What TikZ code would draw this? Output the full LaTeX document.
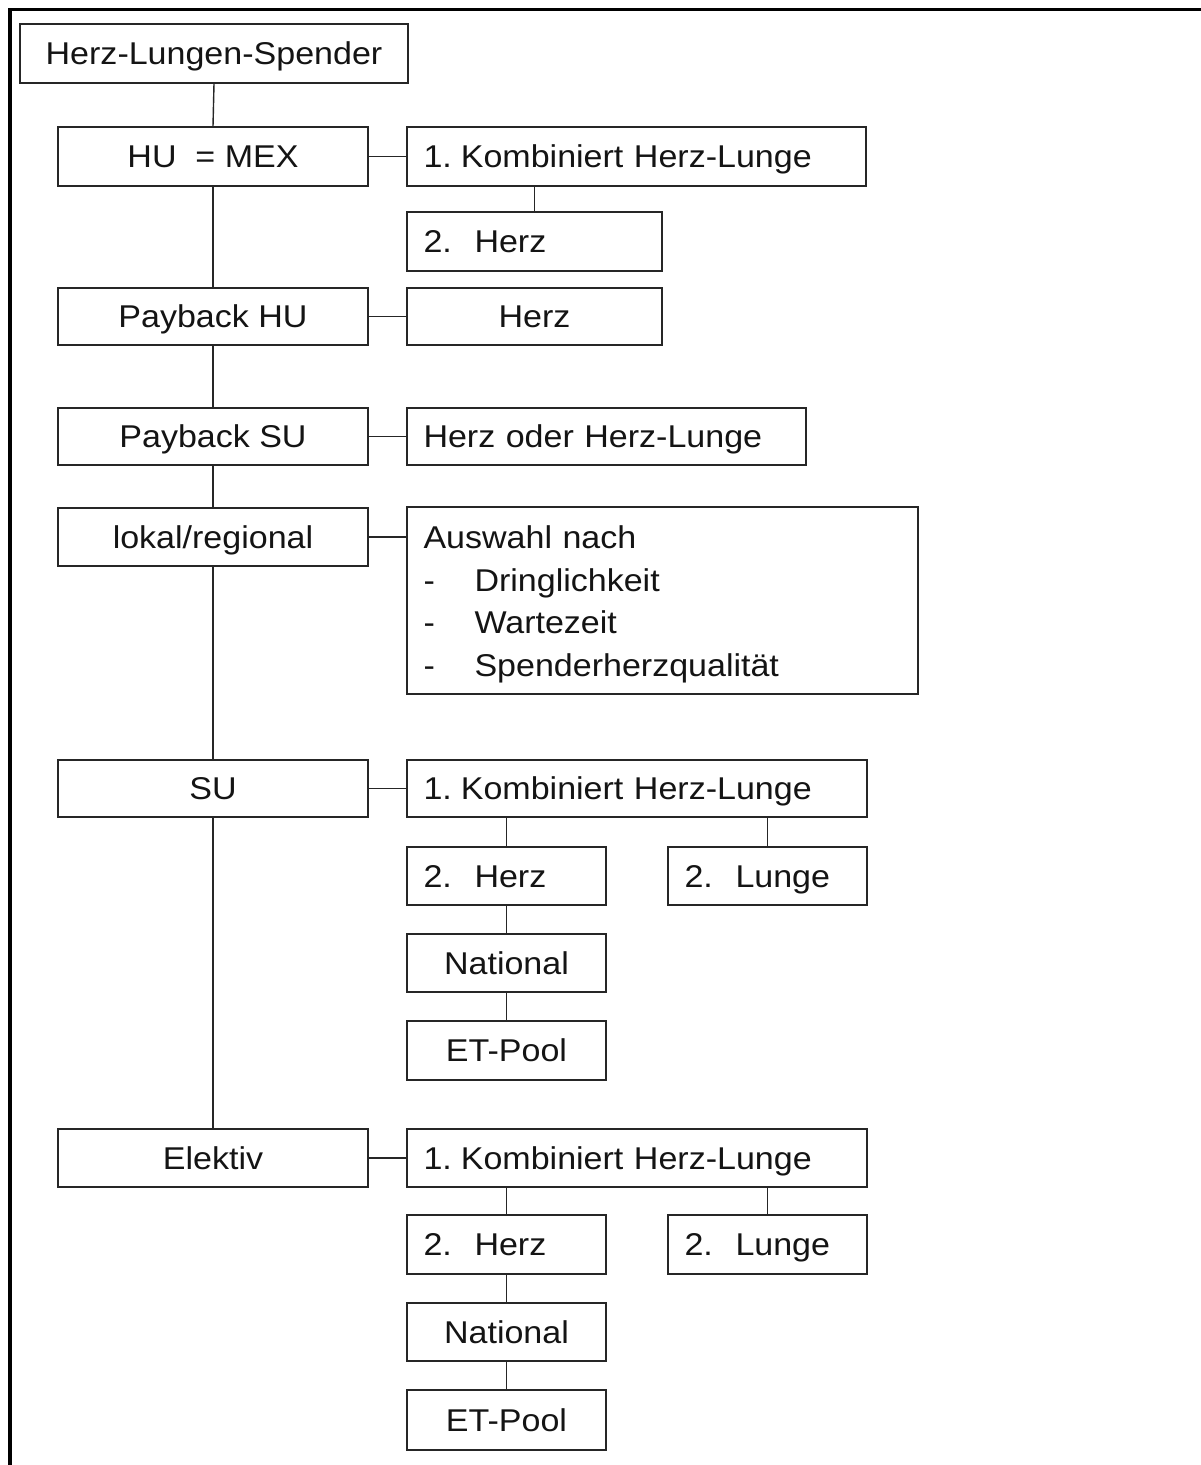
\documentclass[tikz,border=0pt]{standalone}
\usepackage{fontspec}
\setmainfont{Liberation Sans}[FakeStretch=1.08]

% \placebox{name}{x1}{y1}{x2}{y2}{style}{text}: a box given by its corners
\newcommand\placebox[7]{%
  \pgfmathsetmacro\bw{#4-#2}%
  \pgfmathsetmacro\bh{#5-#3}%
  \pgfmathsetmacro\tw{#4-#2-33}%
  \node[#6,minimum width=\bw pt,minimum height=\bh pt] (#1) at ({(#2+#4)/2},{(#3+#5)/2}) {#7};}
\newcommand\tabitem[1]{\makebox[51pt][l]{#1}}
\newcommand\combined{1.\hspace{9pt}Kombiniert Herz-Lunge}

\begin{document}
\begin{tikzpicture}[x=1pt,y=-1pt,
  base/.style={draw=black!85,line width=1.4pt,inner sep=0pt,
    font=\fontsize{31.5}{42.5}\selectfont,text=black!92},
  box/.style={base,text height=28.6pt,text depth=6pt},
  lbox/.style={box,align=left,text width=\tw pt,inner xsep=16.5pt},
  multibox/.style={base,align=left,text width=\tw pt,inner xsep=16.5pt},
  link/.style={draw=black!85,line width=1.4pt},
  frame/.style={line width=3.3pt,line join=miter}]
\useasboundingbox (0,0) rectangle (1200,1465);
\fill[white] (0,0) rectangle (1200,1465);

% page frame, open to the right and at the bottom
\draw[frame] (10,1470) -- (10,9.7) -- (1205,9.7);

% main column
\placebox{root}{20}{24}{408}{83}{box}{Herz-Lungen-Spender}
\placebox{hu}{58}{127}{368}{186}{box}{HU\ \ = MEX}
\placebox{phu}{58}{288}{368}{345}{box}{Payback HU}
\placebox{psu}{58}{408}{368}{465}{box}{Payback SU}
\placebox{lok}{58}{508}{368}{566}{box}{lokal/regional}
\placebox{su}{58}{760}{368}{817}{box}{SU}
\placebox{el}{58}{1129}{368}{1187}{box}{Elektiv}

% HU branch
\placebox{huk}{407}{127}{866}{186}{lbox}{\combined}
\placebox{huh}{407}{212}{662}{271}{lbox}{\tabitem{2.}Herz}
% payback branches
\placebox{phuh}{407}{288}{662}{345}{box}{Herz}
\placebox{psuh}{407}{408}{806}{465}{lbox}{Herz oder Herz-Lunge}
% local / regional
\placebox{aus}{407}{507}{918}{694}{multibox}{\rule{0pt}{30.5pt}Auswahl nach\\
  \tabitem{-}Dringlichkeit\\
  \tabitem{-}Wartezeit\\
  \tabitem{-}Spenderherzqualit\"at}

% SU branch
\placebox{suk}{407}{760}{867}{817}{lbox}{\combined}
\placebox{suh}{407}{847}{606}{905}{lbox}{\tabitem{2.}Herz}
\placebox{sul}{668}{847}{867}{905}{lbox}{\tabitem{2.}Lunge}
\placebox{sun}{407}{934}{606}{992}{box}{National}
\placebox{sue}{407}{1021}{606}{1080}{box}{ET-Pool}

% Elektiv branch
\placebox{elk}{407}{1129}{867}{1187}{lbox}{\combined}
\placebox{elh}{407}{1215}{606}{1274}{lbox}{\tabitem{2.}Herz}
\placebox{ell}{668}{1215}{867}{1274}{lbox}{\tabitem{2.}Lunge}
\placebox{eln}{407}{1303}{606}{1361}{box}{National}
\placebox{ele}{407}{1390}{606}{1450}{box}{ET-Pool}

% spine
\draw[link] (root.south) -- (hu.north);
\draw[link] (hu.south) -- (phu.north);
\draw[link] (phu.south) -- (psu.north);
\draw[link] (psu.south) -- (lok.north);
\draw[link] (lok.south) -- (su.north);
\draw[link] (su.south) -- (el.north);

% horizontal links
\draw[link] (hu.east) -- (huk.west);
\draw[link] (phu.east) -- (phuh.west);
\draw[link] (psu.east) -- (psuh.west);
\draw[link] (lok.east) -- (lok.east -| aus.west);
\draw[link] (su.east) -- (suk.west);
\draw[link] (el.east) -- (elk.west);

% sub-branches
\draw[link] (huh.north) -- (huh.north |- huk.south);
\draw[link] (suh.north) -- (suh.north |- suk.south);
\draw[link] (sul.north) -- (sul.north |- suk.south);
\draw[link] (suh.south) -- (sun.north);
\draw[link] (sun.south) -- (sue.north);
\draw[link] (elh.north) -- (elh.north |- elk.south);
\draw[link] (ell.north) -- (ell.north |- elk.south);
\draw[link] (elh.south) -- (eln.north);
\draw[link] (eln.south) -- (ele.north);
\end{tikzpicture}
\end{document}
